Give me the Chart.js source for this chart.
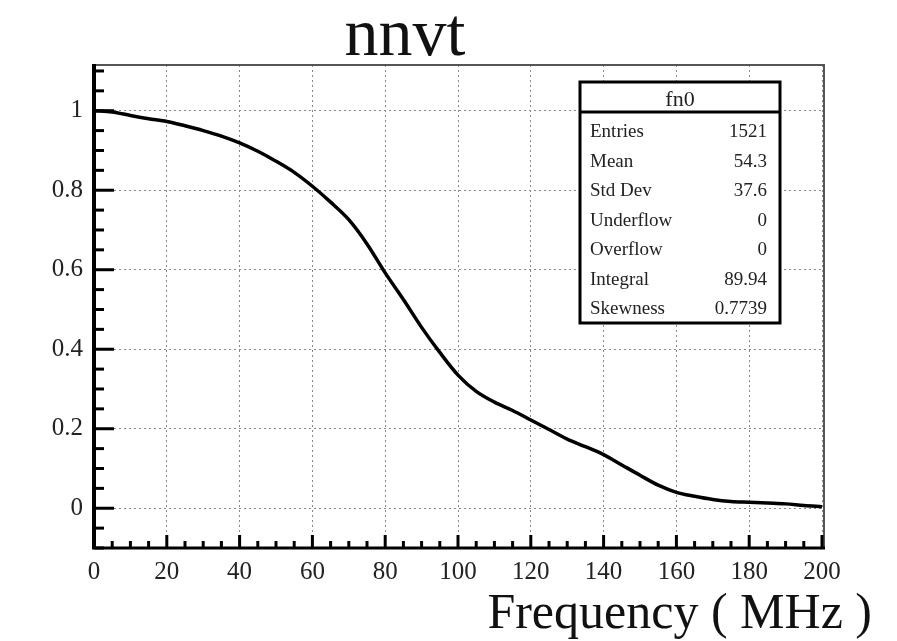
<!DOCTYPE html>
<html>
<head>
<meta charset="utf-8">
<title>nnvt</title>
<script src="https://cdn.jsdelivr.net/npm/chart.js@4.4.1/dist/chart.umd.min.js"></script>
<style>
  html, body { margin: 0; padding: 0; background: #fff; }
  canvas { display: block; }
</style>
</head>
<body>
<canvas id="myChart" width="897" height="641"></canvas>
<script>
// チャートのデータ
const frequencies = [0, 5, 10, 15, 20, 25, 30, 35, 40, 45, 50, 55, 60, 65, 70, 75, 80, 85, 90, 95, 100,
    105, 110, 115, 120, 125, 130, 135, 140, 145, 150, 155, 160, 165, 170, 175, 180, 185, 190, 195, 200];
const fractions = [1.000, 0.997, 0.988, 0.980, 0.973, 0.962, 0.950, 0.936, 0.919, 0.898, 0.873,
    0.845, 0.810, 0.770, 0.726, 0.665, 0.592, 0.525, 0.455, 0.392, 0.335,
    0.294, 0.267, 0.246, 0.222, 0.198, 0.174, 0.155, 0.135, 0.109, 0.083,
    0.058, 0.040, 0.030, 0.022, 0.017, 0.015, 0.013, 0.011, 0.007, 0.004];
const xTickValues = [0, 20, 40, 60, 80, 100, 120, 140, 160, 180, 200];
const yTickValues = [0, 0.2, 0.4, 0.6, 0.8, 1];
const xMinorStep = 5;
const yMinorStep = 0.05;

// 統計ボックスの中身
const statsTitle = 'fn0';
const statsNames = ['Entries', 'Mean', 'Std Dev', 'Underflow', 'Overflow', 'Integral', 'Skewness'];
const statsValues = ['1521', '54.3', '37.6', '0', '0', '89.94', '0.7739'];

const chartTitle = 'nnvt';
const xAxisTitle = 'Frequency ( MHz )';
const serif = '"Liberation Serif", "DejaVu Serif", serif';

// ROOT風の枠・目盛り・統計ボックスを描くプラグイン
const rootStylePlugin = {
    id: 'rootStyle',
    afterDraw(chart) {
        const ctx = chart.ctx;
        const area = chart.chartArea;
        const xScale = chart.scales.x;
        const yScale = chart.scales.y;
        ctx.save();

        // 上と右の枠
        ctx.strokeStyle = '#555';
        ctx.lineWidth = 2;
        ctx.beginPath();
        ctx.moveTo(area.left, area.top);
        ctx.lineTo(area.right + 2, area.top);
        ctx.lineTo(area.right + 2, area.bottom);
        ctx.stroke();

        // 左と下の軸
        ctx.strokeStyle = '#000';
        ctx.lineWidth = 4;
        ctx.beginPath();
        ctx.moveTo(area.left, area.top - 1);
        ctx.lineTo(area.left, area.bottom);
        ctx.stroke();
        ctx.lineWidth = 3;
        ctx.beginPath();
        ctx.moveTo(area.left - 2, area.bottom);
        ctx.lineTo(area.right + 3, area.bottom);
        ctx.stroke();

        // x軸の目盛り（内向き）
        ctx.lineWidth = 3;
        const xCount = Math.round((xScale.max - xScale.min) / xMinorStep);
        for (let i = 0; i <= xCount; i++) {
            const v = xScale.min + i * xMinorStep;
            const px = xScale.getPixelForValue(v);
            const len = xTickValues.includes(v) ? 13 : 7;
            ctx.beginPath();
            ctx.moveTo(px, area.bottom);
            ctx.lineTo(px, area.bottom - len);
            ctx.stroke();
        }

        // y軸の目盛り（内向き）
        const kMin = Math.ceil(yScale.min / yMinorStep - 1e-6);
        const kMax = Math.floor(yScale.max / yMinorStep + 1e-6);
        for (let k = kMin; k <= kMax; k++) {
            const py = yScale.getPixelForValue(k * yMinorStep);
            const len = k % 4 === 0 ? 20 : 10;
            ctx.beginPath();
            ctx.moveTo(area.left, py);
            ctx.lineTo(area.left + len, py);
            ctx.stroke();
        }

        // 統計ボックス
        const bx = area.right - 242;
        const by = area.top + 17;
        const bw = 200;
        const bh = 241;
        ctx.fillStyle = '#fff';
        ctx.fillRect(bx, by, bw, bh);
        ctx.strokeStyle = '#000';
        ctx.lineWidth = 3;
        ctx.strokeRect(bx, by, bw, bh);
        ctx.beginPath();
        ctx.moveTo(bx, by + 30);
        ctx.lineTo(bx + bw, by + 30);
        ctx.stroke();

        ctx.fillStyle = '#222';
        ctx.textBaseline = 'alphabetic';
        ctx.textAlign = 'center';
        ctx.font = `22px ${serif}`;
        ctx.fillText(statsTitle, bx + bw / 2, by + 24);
        ctx.font = `19px ${serif}`;
        statsNames.forEach((name, i) => {
            const ty = by + 55 + i * 29.5;
            ctx.textAlign = 'left';
            ctx.fillText(name, bx + 10, ty);
            ctx.textAlign = 'right';
            ctx.fillText(statsValues[i], bx + bw - 13, ty);
        });

        // タイトルとx軸タイトル
        ctx.fillStyle = '#111';
        ctx.textAlign = 'center';
        ctx.font = `68px ${serif}`;
        ctx.fillText(chartTitle, 405, 55);
        ctx.textAlign = 'right';
        ctx.font = `50px ${serif}`;
        ctx.fillText(xAxisTitle, 872, 628);

        ctx.restore();
    }
};

const ctx = document.getElementById('myChart').getContext('2d');
const myChart = new Chart(ctx, {
    type: 'line',
    data: {
        datasets: [{
            data: frequencies.map((f, i) => ({ x: f, y: fractions[i] })),
            borderColor: '#000',
            borderWidth: 3.5,
            pointRadius: 0,
            cubicInterpolationMode: 'monotone',
            fill: false
        }]
    },
    options: {
        responsive: false,
        animation: false,
        layout: { padding: { top: 65, right: 75, left: 0, bottom: 0 } },
        plugins: {
            legend: { display: false },
            tooltip: { enabled: false },
            title: { display: false }
        },
        scales: {
            x: {
                type: 'linear',
                min: 0,
                max: 200,
                afterBuildTicks: (scale) => { scale.ticks = xTickValues.map(v => ({ value: v })); },
                afterFit: (scale) => { scale.height = 93; },
                grid: { color: '#888', lineWidth: 1, drawTicks: false },
                border: { display: false, dash: [2, 3] },
                ticks: {
                    font: { family: serif, size: 25 },
                    color: '#222',
                    padding: 9,
                    maxRotation: 0,
                    autoSkip: false
                }
            },
            y: {
                type: 'linear',
                min: -0.1,
                max: 1.115,
                afterBuildTicks: (scale) => { scale.ticks = yTickValues.map(v => ({ value: v })); },
                afterFit: (scale) => { scale.width = 94; },
                grid: { color: '#888', lineWidth: 1, drawTicks: false },
                border: { display: false, dash: [2, 3] },
                ticks: {
                    font: { family: serif, size: 25 },
                    color: '#222',
                    padding: 11,
                    callback: (v) => String(Math.round(v * 10) / 10)
                }
            }
        }
    },
    plugins: [rootStylePlugin]
});
</script>
</body>
</html>
